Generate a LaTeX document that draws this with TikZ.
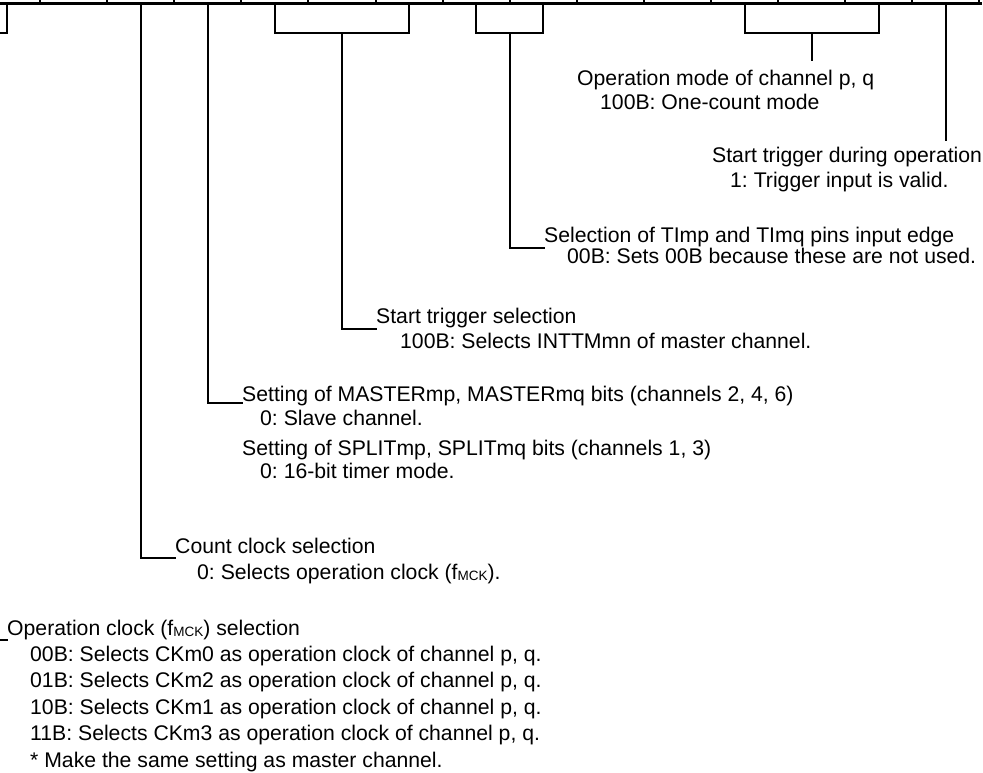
\documentclass[tikz,border=0pt]{standalone}
\usepackage{fontspec}
\setmainfont{Liberation Sans}
\frenchspacing
\newcommand{\fmck}{f\raisebox{-0.08em}{\fontsize{13.5}{14}\selectfont MCK}}
\begin{document}
\begin{tikzpicture}[x=1pt,y=-1pt,
  txt/.style={anchor=base west, inner sep=0pt, font=\fontsize{21.2}{24}\selectfont},
  conn/.style={line width=2pt, line cap=rect, line join=miter},
  regline/.style={line width=3.2pt},
  tick/.style={line width=2pt}]
\useasboundingbox (0,0) rectangle (983,772);
% register bottom edge
\draw[regline] (0,3.4) -- (981.5,3.4);
\foreach \i in {0,...,14} {
  \draw[tick] ({40+67.1*\i},0) -- ({40+67.1*\i},3.4);
}
% cell centres
\foreach \i in {0,...,14} {
  \coordinate (c\i) at ({6.5+67.1*\i},3.4);
}
% texts
\node[txt] (om1) at (577,85) {Operation mode of channel p, q};
\node[txt] (om2) at (600,109) {100B: One-count mode};
\node[txt] (st1) at (712,162) {Start trigger during operation};
\node[txt] (st2) at (730,187) {1: Trigger input is valid.};
\node[txt] (se1) at (544,242) {Selection of TImp and TImq pins input edge};
\node[txt] (se2) at (567,263) {00B: Sets 00B because these are not used.};
\node[txt] (ts1) at (376,323) {Start trigger selection};
\node[txt] (ts2) at (400,348) {100B: Selects INTTMmn of master channel.};
\node[txt] (ms1) at (242,401) {Setting of MASTERmp, MASTERmq bits (channels 2, 4, 6)};
\node[txt] (ms2) at (260,425) {0: Slave channel.};
\node[txt] (sp1) at (242,455) {Setting of SPLITmp, SPLITmq bits (channels 1, 3)};
\node[txt] (sp2) at (260,478) {0: 16-bit timer mode.};
\node[txt] (cc1) at (175,553) {Count clock selection};
\node[txt] (cc2) at (197,579) {0: Selects operation clock (\fmck).};
\node[txt] (oc1) at (7,635) {Operation clock (\fmck) selection};
\node[txt] (oc2) at (30,661) {00B: Selects CKm0 as operation clock of channel p, q.};
\node[txt] (oc3) at (30,687) {01B: Selects CKm2 as operation clock of channel p, q.};
\node[txt] (oc4) at (30,714) {10B: Selects CKm1 as operation clock of channel p, q.};
\node[txt] (oc5) at (30,740) {11B: Selects CKm3 as operation clock of channel p, q.};
\node[txt] (oc6) at (30,767) {* Make the same setting as master channel.};
% connectors
% bits 15-14 : operation clock
\coordinate (ocL) at (0,640);
\draw[conn] (c0) -- (c0 |- 0,33) -- (0,33);
\draw[conn] (ocL) -- (oc1.base west |- ocL);
% count clock
\draw[conn] (c2) -- (c2 |- 0,558) -- (cc1.base west |- 0,558);
% master / split
\draw[conn] (c3) -- (c3 |- 0,403) -- (ms1.base west |- 0,403);
% start trigger selection
\draw[conn] (c4) -- (c4 |- 0,33) -- (c6 |- 0,33) -- (c6);
\draw[conn] (c5 |- 0,33) -- (c5 |- 0,329) -- (ts1.base west |- 0,329);
% TI edge
\draw[conn] (c7) -- (c7 |- 0,33) -- (c8 |- 0,33) -- (c8);
\draw[conn] (c7 |- 0,33) ++(33.5,0) coordinate (teM) -- (teM |- 0,248) -- (se1.base west |- 0,248);
% operation mode
\draw[conn] (c11) -- (c11 |- 0,33) -- (c13 |- 0,33) -- (c13);
\draw[conn] (c12 |- 0,33) -- (c12 |- 0,60);
% start trigger during operation
\draw[conn] (c14) -- (c14 |- 0,140);
\end{tikzpicture}
\end{document}
